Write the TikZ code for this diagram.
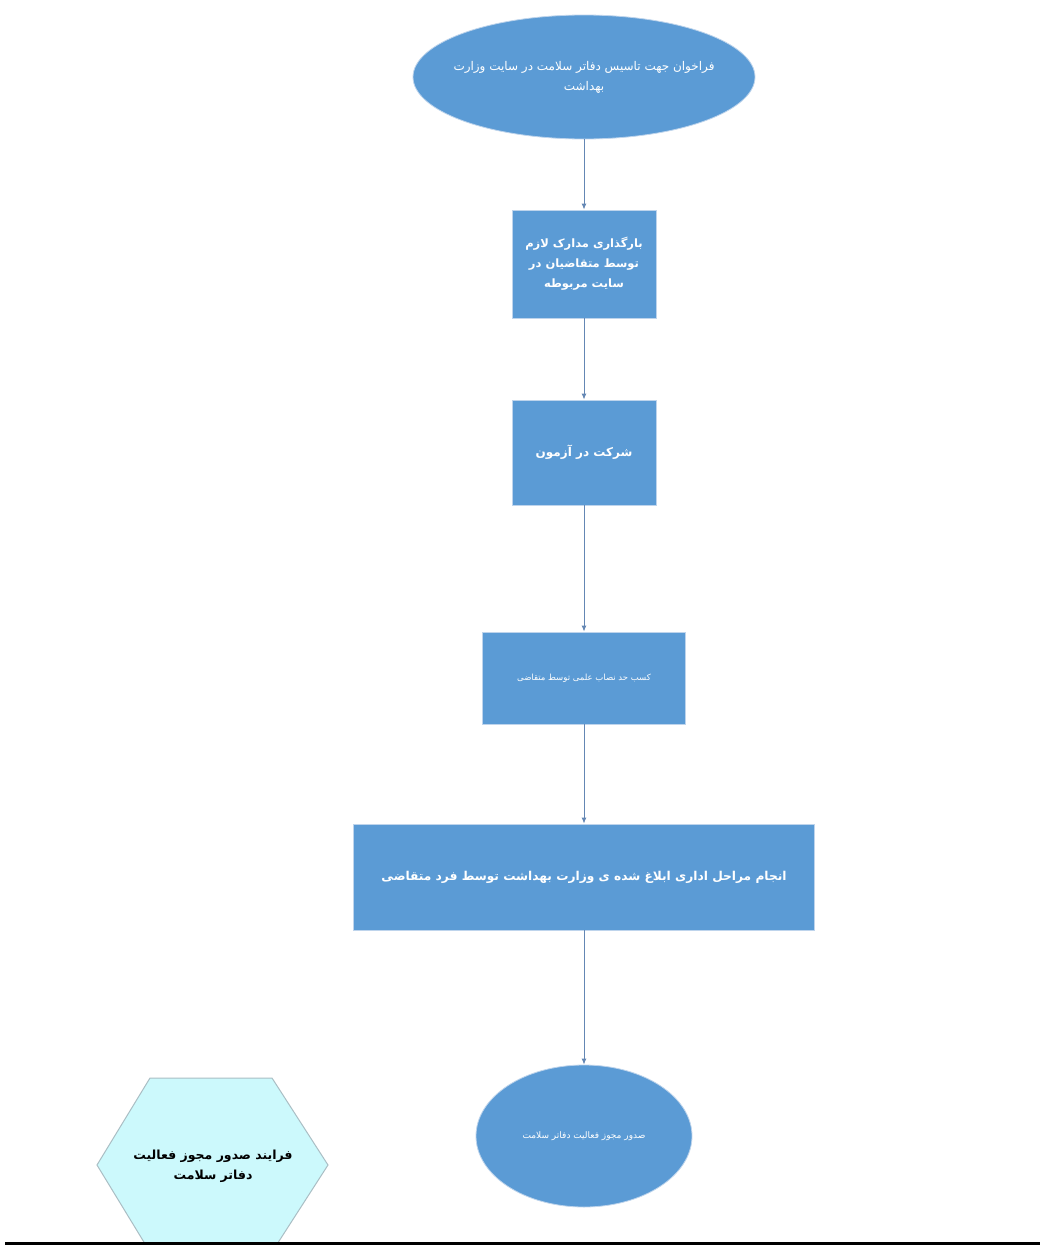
\documentclass[tikz,border=0pt]{standalone}
\usepackage{fontspec}
\usetikzlibrary{shapes.geometric,arrows.meta}
\TeXXeTstate=1
\newfontfamily\arabicfont[Script=Arabic]{DejaVu Sans}
\definecolor{boxblue}{RGB}{91,155,213}
\definecolor{boxedge}{RGB}{190,212,236}
\definecolor{arrowc}{RGB}{100,135,180}
\definecolor{hexfill}{RGB}{204,249,252}
\definecolor{hexedge}{RGB}{170,190,196}
\definecolor{baseline}{RGB}{50,62,72}
\tikzset{
  stepbox/.style={rectangle, fill=boxblue, draw=boxedge, line width=0.8pt, text=white, align=center, inner sep=0pt},
  termnode/.style={ellipse, fill=boxblue, draw=boxedge, line width=0.8pt, text=white, align=center, inner sep=0pt},
  plaintext/.style={text=white, align=center, inner sep=0pt},
  flow/.style={draw=arrowc, line width=1pt, -{Latex[length=6pt,width=5pt]}},
}
\begin{document}
\begin{tikzpicture}[x=1pt,y=-1pt]
\useasboundingbox (0,0) rectangle (1040,1245);
\fill[white] (0,0) rectangle (1040,1245);
% nodes
\node[termnode, minimum width=342pt, minimum height=124pt] (e1) at (584,77) {};
\node[plaintext, font={\arabicfont\fontsize{12}{20}\selectfont}] (e1t) at (e1.center)
  {\beginR فراخوان جهت تاسیس دفاتر سلامت در سایت وزارت\endR\\\beginR بهداشت\endR};
\node[stepbox, minimum width=144pt, minimum height=108pt,
      font={\arabicfont\bfseries\fontsize{11.5}{20}\selectfont}] (b2) at (584,264)
  {\beginR بارگذاری مدارک لازم\endR\\\beginR توسط متقاضیان در\endR\\\beginR سایت مربوطه\endR};
\node[stepbox, minimum width=144pt, minimum height=105pt,
      font={\arabicfont\bfseries\fontsize{12}{14}\selectfont}] (b3) at (584,452.5)
  {\beginR شرکت در آزمون\endR};
\node[stepbox, minimum width=203pt, minimum height=92pt,
      font={\arabicfont\fontsize{8.5}{10}\selectfont}] (b4) at (584,678)
  {\beginR کسب حد نصاب علمی توسط متقاضی\endR};
\node[stepbox, minimum width=461pt, minimum height=106pt,
      font={\arabicfont\bfseries\fontsize{12.2}{14}\selectfont}] (b5) at (584,877)
  {\beginR انجام مراحل اداری ابلاغ شده ی وزارت بهداشت توسط فرد متقاضی\endR};
\node[termnode, minimum width=216pt, minimum height=142pt] (e6) at (584,1136) {};
\node[plaintext, font={\arabicfont\fontsize{9}{10}\selectfont}] (e6t) at (e6.center)
  {\beginR صدور مجوز فعالیت دفاتر سلامت\endR};
% connectors
\draw[flow] (e1) -- (b2);
\draw[flow] (b2) -- (b3);
\draw[flow] (b3) -- (b4);
\draw[flow] (b4) -- (b5);
\draw[flow] (b5) -- (e6);
% hexagon title
\begin{scope}
\clip (0,0) rectangle (1040,1242);
\draw[fill=hexfill, draw=hexedge, line width=1pt]
  (150,1078) -- (272,1078) -- (328,1165) -- (272,1252) -- (150,1252) -- (97,1165) -- cycle;
\end{scope}
\node[align=center, text=black, inner sep=0pt,
      font={\arabicfont\bfseries\fontsize{12.5}{20}\selectfont}] (hx) at (213,1166)
  {\beginR فرایند صدور مجوز فعالیت\endR\\\beginR دفاتر سلامت\endR};
% bottom rule
\draw[baseline, line width=3pt] (5,1243.5) -- (1040,1243.5);
\end{tikzpicture}
\end{document}
